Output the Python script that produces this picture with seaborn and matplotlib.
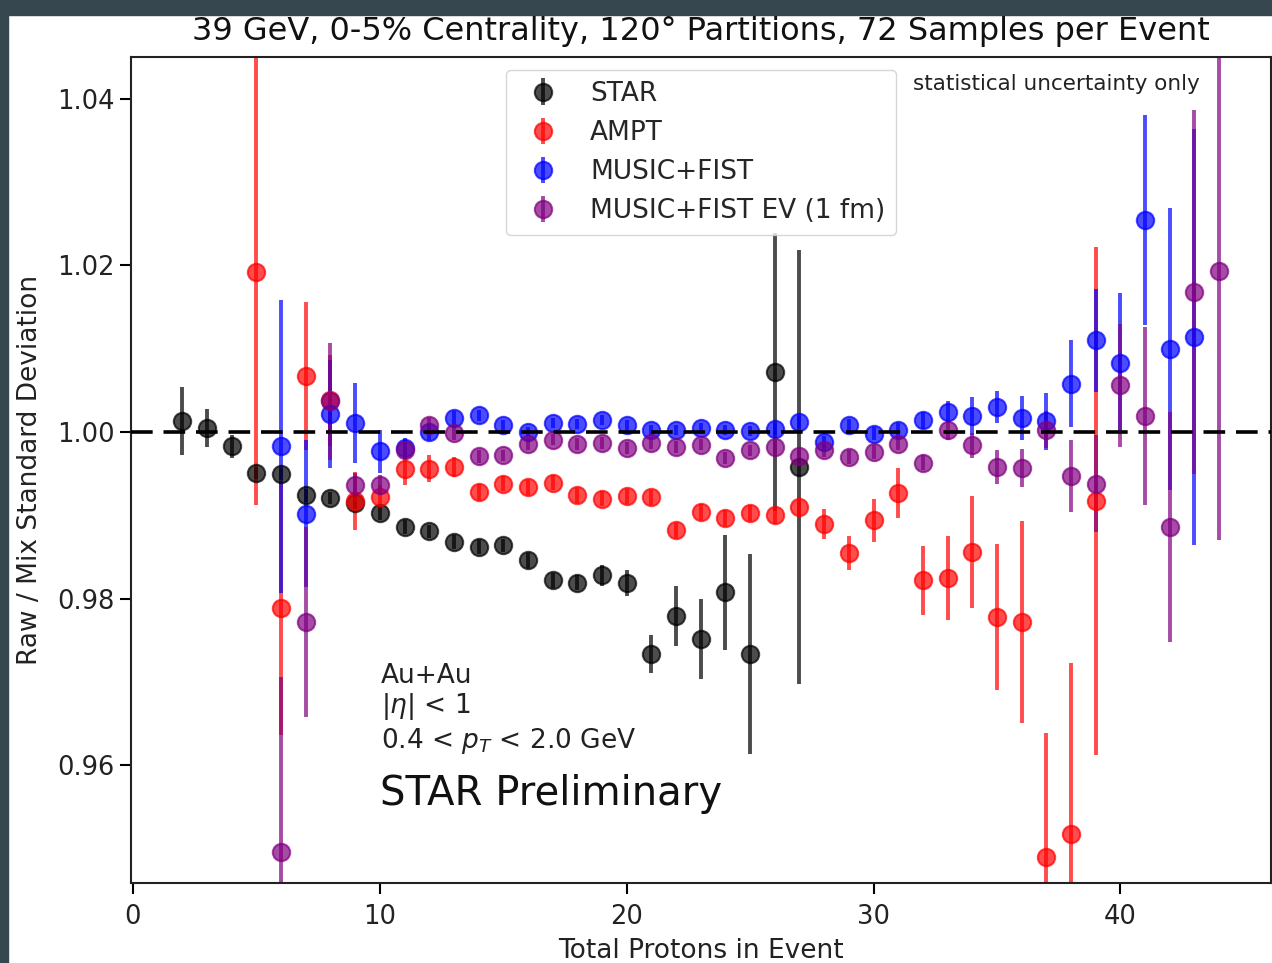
import numpy as np
import pandas as pd
import seaborn as sns
import matplotlib
matplotlib.use("Agg")
import matplotlib.pyplot as plt
from matplotlib.patches import Rectangle

# ---------------- data ----------------
star_x = list(range(2, 28))
star_y = [1.0013, 1.0005, 0.9983, 0.9951, 0.9950, 0.9924, 0.9921, 0.9915, 0.9903,
          0.9886, 0.9881, 0.9868, 0.9862, 0.9864, 0.9846, 0.9822, 0.9819, 0.9828,
          0.9819, 0.9734, 0.9779, 0.9752, 0.9808, 0.9734, 1.0072, 0.9958]
star_err = [0.0041, 0.0023, 0.0014, 0.0007, 0.0007, 0.0008, 0.0007, 0.0008, 0.0008,
            0.0008, 0.0008, 0.0008, 0.0008, 0.0008, 0.0009, 0.0009, 0.0009, 0.0013,
            0.0016, 0.0023, 0.0036, 0.0048, 0.0069, 0.0120, 0.0167, 0.0260]

ampt_x = list(range(5, 40))
ampt_y = [1.0192, 0.9789, 1.0067, 1.0038, 0.9917, 0.9922, 0.9956, 0.9956, 0.9958,
          0.9928, 0.9938, 0.9934, 0.9939, 0.9924, 0.9920, 0.9923, 0.9922, 0.9882,
          0.9904, 0.9897, 0.9903, 0.9900, 0.9910, 0.9890, 0.9855, 0.9894, 0.9927,
          0.9822, 0.9825, 0.9856, 0.9778, 0.9772, 0.9490, 0.9518, 0.9917]
ampt_err = [0.0280, 0.0152, 0.0089, 0.0055, 0.0035, 0.0015, 0.0020, 0.0016, 0.0012,
            0.0010, 0.0009, 0.0009, 0.0009, 0.0009, 0.0009, 0.0009, 0.0009, 0.0009,
            0.0010, 0.0010, 0.0010, 0.0010, 0.0012, 0.0018, 0.0020, 0.0026, 0.0030,
            0.0041, 0.0050, 0.0067, 0.0088, 0.0121, 0.0149, 0.0205, 0.0305]

music_x = list(range(6, 44))
music_y = [0.9983, 0.9902, 1.0022, 1.0011, 0.9977, 0.9981, 1.0000, 1.0017, 1.0020,
           1.0008, 1.0000, 1.0011, 1.0010, 1.0014, 1.0008, 1.0002, 1.0002, 1.0005,
           1.0002, 1.0001, 1.0004, 1.0012, 0.9988, 1.0008, 0.9998, 1.0002, 1.0014,
           1.0024, 1.0019, 1.0030, 1.0017, 1.0013, 1.0058, 1.0110, 1.0083, 1.0254,
           1.0100, 1.0114]
music_err = [0.0176, 0.0088, 0.0065, 0.0048, 0.0026, 0.0012, 0.0009, 0.0008, 0.0007,
             0.0007, 0.0006, 0.0006, 0.0006, 0.0006, 0.0006, 0.0006, 0.0006, 0.0006,
             0.0006, 0.0006, 0.0007, 0.0007, 0.0007, 0.0008, 0.0008, 0.0009, 0.0010,
             0.0013, 0.0023, 0.0019, 0.0026, 0.0034, 0.0052, 0.0062, 0.0084, 0.0126,
             0.0169, 0.0250]

ev_x = list(range(6, 45))
ev_y = [0.9496, 0.9772, 1.0037, 0.9936, 0.9936, 0.9978, 1.0008, 0.9999, 0.9971,
        0.9972, 0.9986, 0.9991, 0.9986, 0.9987, 0.9981, 0.9987, 0.9982, 0.9985,
        0.9969, 0.9978, 0.9982, 0.9971, 0.9978, 0.9970, 0.9976, 0.9986, 0.9963,
        1.0002, 0.9984, 0.9958, 0.9957, 1.0003, 0.9947, 0.9938, 1.0056, 1.0019,
        0.9886, 1.0168, 1.0193]
ev_err = [0.0210, 0.0114, 0.0070, 0.0015, 0.0012, 0.0010, 0.0009, 0.0008, 0.0008,
          0.0007, 0.0007, 0.0007, 0.0007, 0.0007, 0.0007, 0.0007, 0.0007, 0.0007,
          0.0007, 0.0007, 0.0007, 0.0008, 0.0008, 0.0008, 0.0008, 0.0008, 0.0009,
          0.0011, 0.0015, 0.0020, 0.0023, 0.0022, 0.0043, 0.0058, 0.0074, 0.0107,
          0.0138, 0.0218, 0.0323]

series_names = ["STAR", "AMPT", "MUSIC+FIST", "MUSIC+FIST EV (1 fm)"]
series_colors = ["black", "red", "blue", "purple"]

frames = []
for name, xs, ys, es in zip(series_names,
                            [star_x, ampt_x, music_x, ev_x],
                            [star_y, ampt_y, music_y, ev_y],
                            [star_err, ampt_err, music_err, ev_err]):
    frames.append(pd.DataFrame({"protons": xs, "ratio": ys, "err": es, "model": name}))
df = pd.concat(frames, ignore_index=True)

# ---------------- style ----------------
sns.set_theme(style="ticks")
plt.rcParams["font.family"] = ["DejaVu Sans"]
plt.rcParams["mathtext.fontset"] = "dejavusans"

W, H = 1272, 963
fig = plt.figure(figsize=(W / 100, H / 100), dpi=100)
fig.patch.set_facecolor("white")
# dark screenshot frame (left and top)
fig.patches.append(Rectangle((0, 0), 8 / W, 1, transform=fig.transFigure,
                             color="#37474f", zorder=-10))
fig.patches.append(Rectangle((0, 1 - 15 / H), 1, 15 / H, transform=fig.transFigure,
                             color="#37474f", zorder=-10))

ax = fig.add_axes([130.5 / W, (H - 883) / H, 1140.5 / W, 826 / H])
ax.set_facecolor("white")

for name, col in zip(series_names, series_colors):
    d = df[df["model"] == name]
    ax.errorbar(d["protons"], d["ratio"], yerr=d["err"], fmt="o", color=col,
                ecolor=col, alpha=0.7, markersize=12.5, elinewidth=2.8,
                markeredgewidth=1.5, capsize=0, label=name)

ax.axhline(1.0, color="black", lw=2.6, ls=(0, (6, 3)), zorder=5)

ax.set_xlim(-0.1, 46.1)
ax.set_ylim(0.9459, 1.045)
ax.set_xticks([0, 10, 20, 30, 40])
ax.set_yticks([0.96, 0.98, 1.00, 1.02, 1.04])
ax.set_yticklabels(["0.96", "0.98", "1.00", "1.02", "1.04"])
ax.tick_params(axis="both", labelsize=18.5, length=8, width=1.5, direction="out",
               color="black", labelcolor="#222222")
ax.tick_params(axis="x", pad=7)
for s in ax.spines.values():
    s.set_visible(True)
    s.set_linewidth(1.5)
    s.set_color("#222222")

ax.set_xlabel("Total Protons in Event", fontsize=19, labelpad=6, color="#222222")
ax.set_ylabel("Raw / Mix Standard Deviation", fontsize=19, labelpad=10, color="#222222")
ax.set_title("39 GeV, 0-5% Centrality, 120° Partitions, 72 Samples per Event",
             fontsize=23, pad=12, color="#111111")

leg = ax.legend(loc="upper center", fontsize=19, frameon=True, framealpha=0.8,
                edgecolor="#cccccc", fancybox=True, labelspacing=0.5,
                borderpad=0.4, handletextpad=0.8)

ax.text(0.9375, 0.960, "statistical uncertainty only", transform=ax.transAxes,
        ha="right", va="baseline", fontsize=15.5, color="#222222")

ax.text(10.05, 0.96989, "Au+Au", fontsize=19, va="baseline", color="#222222")
ax.text(10.05, 0.96629, r"$|\eta|$ < 1", fontsize=19, va="baseline", color="#222222")
ax.text(10.05, 0.96209, r"0.4 < $p_T$ < 2.0 GeV", fontsize=19, va="baseline",
        color="#222222")
ax.text(10.0, 0.95525, "STAR Preliminary", fontsize=29, va="baseline",
        color="#111111")

fig.savefig("out.png", dpi=100, facecolor=fig.get_facecolor())
